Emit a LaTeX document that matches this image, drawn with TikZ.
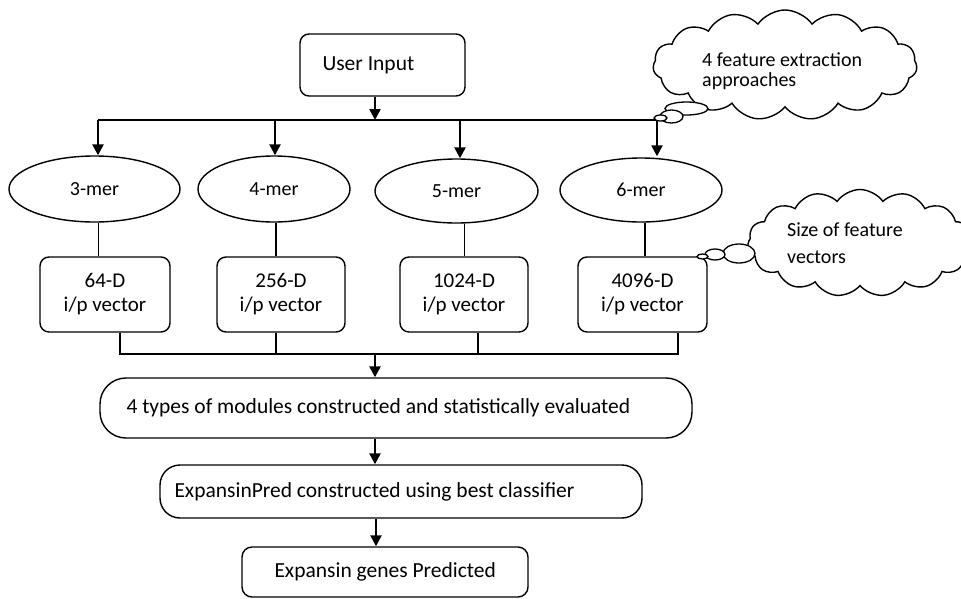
\documentclass[tikz,border=0pt]{standalone}
\usepackage{fontspec}
\setmainfont{Carlito}
\usetikzlibrary{shapes.geometric,shapes.symbols,arrows.meta}
\begin{document}
\begin{tikzpicture}[x=1pt,y=-1pt,
  font=\fontsize{20}{24}\selectfont,
  rbox/.style={draw, line width=1.4pt, rounded corners=#1, inner sep=0pt, align=center},
  rbox/.default=9pt,
  merell/.style={draw, ellipse, line width=1.4pt, inner sep=0pt},
  thinline/.style={line width=1.1pt},
  barline/.style={line width=1.6pt},
  flow/.style={line width=2.4pt, -{Triangle[length=11pt,width=11pt]}},
  thought/.style={draw, cloud, cloud puffs=15, cloud puff arc=110, line width=1.4pt, inner sep=0pt, fill=white},
  bubble/.style={draw, ellipse, line width=1.3pt, fill=white, inner sep=0pt},
  txt/.style={anchor=west, inner sep=0pt, align=left},
  bigtxt/.style={txt, font=\fontsize{21.5}{24}\selectfont}
]
\useasboundingbox (0,0) rectangle (961,598);

% input box
\node[rbox, minimum width=165pt, minimum height=62pt] (user) at (382.5,65) {};
\node[bigtxt] (usertxt) at ([xshift=23pt]user.west) {User Input};

% k-mer feature extraction
\node[merell, minimum width=171pt, minimum height=66pt] (e3) at (94.5,189) {3-mer};
\node[merell, minimum width=152pt, minimum height=66pt] (e4) at (274,189) {4-mer};
\node[merell, minimum width=163pt, minimum height=64pt] (e5) at (456.5,191) {5-mer};
\node[merell, minimum width=162pt, minimum height=64pt] (e6) at (641,190) {6-mer};

% feature vectors
\tikzset{vbox/.style={rbox, minimum height=75pt, font=\fontsize{21}{24}\selectfont}}
\node[vbox, minimum width=130pt] (b64)   at (105,294.5)   {64-D\\i/p vector};
\node[vbox, minimum width=128pt] (b256)  at (281,294.5)   {256-D\\i/p vector};
\node[vbox, minimum width=128pt] (b1024) at (464,294.5)   {1024-D\\i/p vector};
\node[vbox, minimum width=129pt] (b4096) at (642.5,294.5) {4096-D\\i/p vector};

% pipeline
\node[rbox=26pt, minimum width=592pt, minimum height=60pt] (mods) at (396,408) {};
\node[bigtxt] (modstxt) at ([xshift=27pt]mods.west) {4 types of modules constructed and statistically evaluated};
\node[rbox=20pt, minimum width=482pt, minimum height=53pt] (pred) at (401,491.5) {};
\node[bigtxt] (predtxt) at ([xshift=15pt]pred.west) {ExpansinPred constructed using best classifier};
\node[rbox=10pt, minimum width=286pt, minimum height=50pt] (genes) at (385,572) {};
\node[bigtxt] (genestxt) at ([xshift=33pt]genes.west) {Expansin genes Predicted};

% branch points
\coordinate (split) at (375,120);
\coordinate (t3) at (98,120);
\coordinate (t4) at (275,120);
\coordinate (t5) at (460,120);
\coordinate (t6) at (657,120);
\coordinate (j1) at (120,354);
\coordinate (j2) at (276,354);
\coordinate (j3) at (478,354);
\coordinate (j4) at (678,354);
\coordinate (jm) at (375,354);

% fan-out
\draw[flow] (user.south -| split) -- (split);
\draw[barline] (t3) -- (t6);
\draw[flow] (t3) -- (t3 |- e3.north);
\draw[flow] (t4) -- (t4 |- e4.north);
\draw[flow] (t5) -- (t5 |- e5.north);
\draw[flow] (t6) -- ([yshift=1pt]t6 |- e6.north);

% ellipse to vector box
\draw[thinline] ([xshift=4pt]e3.south) -- ([xshift=4pt]e3.south |- b64.north);
\draw[thinline] ([xshift=2pt]e4.south) -- ([xshift=2pt]e4.south |- b256.north);
\draw[thinline] ([xshift=8pt]e5.south) -- ([xshift=8pt]e5.south |- b1024.north);
\draw[thinline] ([xshift=4pt]e6.south) -- ([xshift=4pt]e6.south |- b4096.north);

% fan-in
\draw[barline] (b64.south -| j1) -- (j1) -- (j4) -- (b4096.south -| j4);
\draw[barline] (b256.south -| j2) -- (j2);
\draw[barline] (b1024.south -| j3) -- (j3);
\draw[flow] (jm) -- (jm |- mods.north);
\draw[flow] (mods.south -| jm) -- (pred.north -| jm);
\draw[flow] ([xshift=1pt]pred.south -| jm) -- ([xshift=1pt]genes.north -| jm);

% callout: feature extraction
\node[thought, minimum width=264pt, minimum height=110pt] (c1) at (785,65) {};
\node[bubble, minimum width=43pt, minimum height=13pt] (c1a) at (686.5,108.5) {};
\node[bubble, minimum width=23pt, minimum height=13pt] (c1b) at (671.5,116.5) {};
\node[bubble, minimum width=13pt, minimum height=6pt] (c1c) at (660.5,118) {};
\node[txt, font=\fontsize{20}{20}\selectfont] (c1txt) at (702,71) {4 feature extraction\\approaches};

% callout: vector sizes
\node[thought, minimum width=225pt, minimum height=107pt] (c2) at (860,243) {};
\node[bubble, minimum width=32pt, minimum height=19pt] (c2a) at (739,253.5) {};
\node[bubble, minimum width=20pt, minimum height=11pt] (c2b) at (715,254.5) {};
\node[bubble, minimum width=11pt, minimum height=5pt] (c2c) at (702.5,256.5) {};
\node[txt, font=\fontsize{20}{27}\selectfont] (c2txt) at (787,243) {Size of feature\\vectors};
\end{tikzpicture}
\end{document}
